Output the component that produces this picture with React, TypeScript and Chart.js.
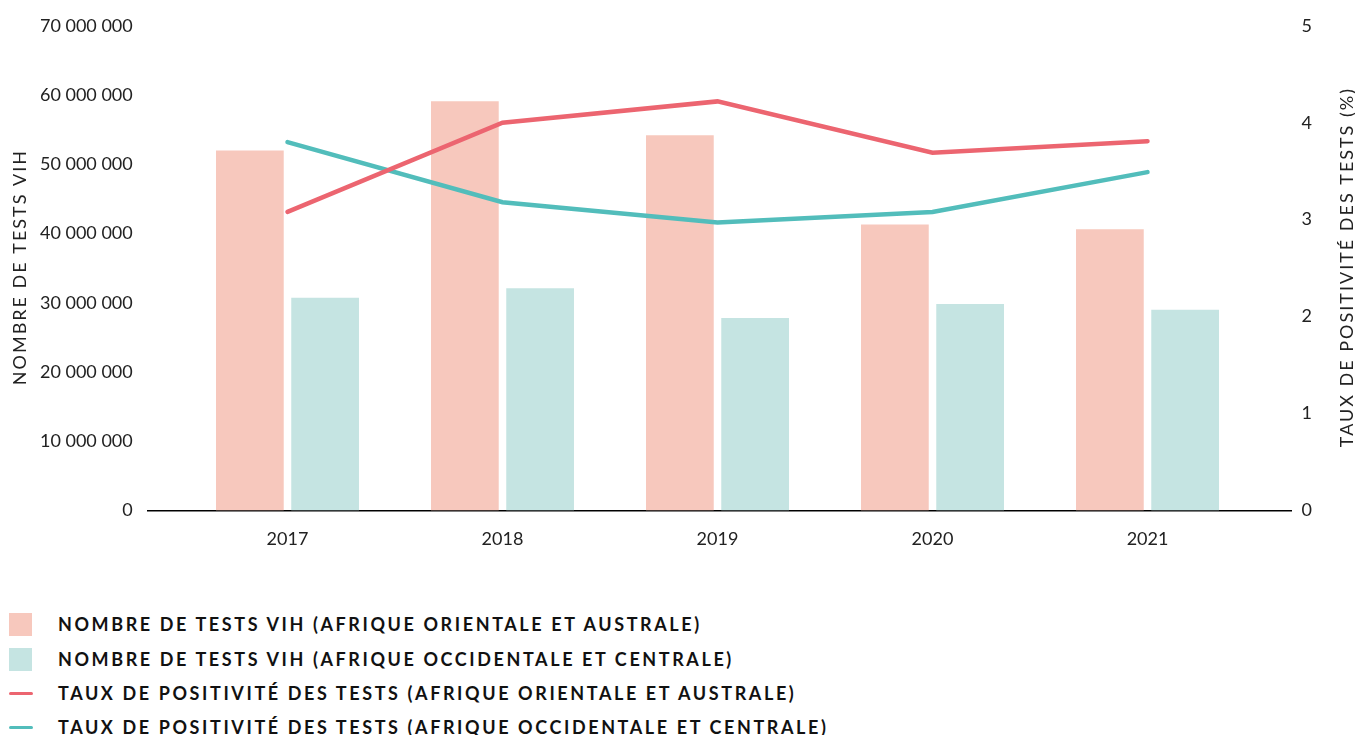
import React, { useEffect, useRef } from 'react';
import { Chart, registerables } from 'chart.js';

Chart.register(...registerables);

const years = ['2017', '2018', '2019', '2020', '2021'];
const testsEastSouth = [52.0e6, 59.1e6, 54.2e6, 41.3e6, 40.6e6];
const testsWestCentral = [30.7e6, 32.1e6, 27.8e6, 29.8e6, 29.0e6];
const positivityEastSouth = [3.08, 4.0, 4.22, 3.69, 3.81];
const positivityWestCentral = [3.8, 3.18, 2.97, 3.08, 3.49];

const leftAxisTitle = 'NOMBRE DE TESTS VIH';
const rightAxisTitle = 'TAUX DE POSITIVITÉ DES TESTS (%)';
const legendLabels = [
  'NOMBRE DE TESTS VIH (AFRIQUE ORIENTALE ET AUSTRALE)',
  'NOMBRE DE TESTS VIH (AFRIQUE OCCIDENTALE ET CENTRALE)',
  'TAUX DE POSITIVITÉ DES TESTS (AFRIQUE ORIENTALE ET AUSTRALE)',
  'TAUX DE POSITIVITÉ DES TESTS (AFRIQUE OCCIDENTALE ET CENTRALE)',
];

const PINK_BAR = '#f7c8bd';
const TEAL_BAR = '#c5e4e2';
const RED_LINE = '#ec6570';
const TEAL_LINE = '#52bdbb';
const FONT = 'Lato, "Open Sans", sans-serif';

const fmt = (v: number) => String(v).replace(/\B(?=(\d{3})+(?!\d))/g, ' ');

const axisTitlesPlugin = {
  id: 'spacedAxisTitles',
  afterDraw(chart: any) {
    const { ctx, chartArea } = chart;
    const cy = (chartArea.top + chartArea.bottom) / 2;
    const draw = (text: string, x: number) => {
      ctx.save();
      ctx.translate(x, cy);
      ctx.rotate(-Math.PI / 2);
      ctx.font = `18px ${FONT}`;
      (ctx as any).letterSpacing = '2px';
      ctx.fillStyle = '#222';
      ctx.textAlign = 'center';
      ctx.textBaseline = 'middle';
      ctx.fillText(text, 1, 0);
      ctx.restore();
    };
    draw(leftAxisTitle, 20);
    draw(rightAxisTitle, 1347);
  },
};

export default function App() {
  const canvasRef = useRef<HTMLCanvasElement | null>(null);

  useEffect(() => {
    const canvas = canvasRef.current;
    if (!canvas) return;
    const pts = (arr: number[]) => arr.map((y, i) => ({ x: i, y }));
    const noGrid = { display: false, drawTicks: false, tickLength: 0 };
    const chart = new Chart(canvas, {
      type: 'bar',
      plugins: [axisTitlesPlugin],
      data: {
        datasets: [
          {
            type: 'line',
            label: legendLabels[2],
            data: pts(positivityEastSouth),
            yAxisID: 'y1',
            borderColor: RED_LINE,
            backgroundColor: RED_LINE,
            borderWidth: 4.5,
            pointRadius: 0,
            borderCapStyle: 'round',
            tension: 0,
            order: 1,
          } as any,
          {
            type: 'line',
            label: legendLabels[3],
            data: pts(positivityWestCentral),
            yAxisID: 'y1',
            borderColor: TEAL_LINE,
            backgroundColor: TEAL_LINE,
            borderWidth: 4.5,
            pointRadius: 0,
            borderCapStyle: 'round',
            tension: 0,
            order: 1,
          } as any,
          {
            type: 'bar',
            label: legendLabels[0],
            data: pts(testsEastSouth),
            yAxisID: 'y',
            backgroundColor: PINK_BAR,
            categoryPercentage: 0.7,
            barPercentage: 0.9,
            order: 2,
          } as any,
          {
            type: 'bar',
            label: legendLabels[1],
            data: pts(testsWestCentral),
            yAxisID: 'y',
            backgroundColor: TEAL_BAR,
            categoryPercentage: 0.7,
            barPercentage: 0.9,
            order: 2,
          } as any,
        ],
      },
      options: {
        animation: false,
        responsive: false,
        maintainAspectRatio: false,
        layout: { padding: { top: 24, left: 0, right: 0, bottom: 14 } },
        plugins: { legend: { display: false }, tooltip: { enabled: false } },
        scales: {
          x: {
            type: 'linear',
            min: -0.65,
            max: 4.67,
            offset: false,
            grid: noGrid,
            border: { display: true, color: '#000', width: 1.5 },
            afterBuildTicks: (scale: any) => {
              scale.ticks = years.map((_, i) => ({ value: i }));
            },
            ticks: {
              autoSkip: false,
              maxRotation: 0,
              padding: 18,
              color: '#222',
              font: { family: FONT, size: 18 },
              callback: (v: any) => years[Number(v)] ?? '',
            },
          },
          y: {
            type: 'linear',
            position: 'left',
            min: 0,
            max: 70000000,
            grid: noGrid,
            border: { display: false },
            ticks: {
              stepSize: 10000000,
              padding: 15,
              color: '#222',
              font: { family: FONT, size: 18 },
              callback: (v: any) => fmt(Number(v)),
            },
            title: {
              display: true,
              text: leftAxisTitle,
              color: 'rgba(0,0,0,0)',
              font: { family: FONT, size: 18, lineHeight: 1 },
              padding: { top: 11, bottom: -4 },
            },
          },
          y1: {
            type: 'linear',
            position: 'right',
            min: 0,
            max: 5,
            grid: noGrid,
            border: { display: false },
            ticks: {
              stepSize: 1,
              padding: 10,
              color: '#222',
              font: { family: FONT, size: 18 },
            },
            title: {
              display: true,
              text: rightAxisTitle,
              color: 'rgba(0,0,0,0)',
              font: { family: FONT, size: 18, lineHeight: 1 },
              padding: { top: 0, bottom: 15 },
            },
          },
        },
      },
    });
    return () => chart.destroy();
  }, []);

  const swatch = (i: number) => {
    if (i < 2) {
      return (
        <span
          style={{
            display: 'inline-block',
            width: 23,
            height: 23,
            background: i === 0 ? PINK_BAR : TEAL_BAR,
          }}
        />
      );
    }
    return (
      <span
        style={{
          display: 'inline-block',
          width: 24,
          height: 3,
          borderRadius: 2,
          background: i === 2 ? RED_LINE : TEAL_LINE,
        }}
      />
    );
  };

  const rowCenters = [624, 659, 693, 727];

  return (
    <div style={{ position: 'absolute', left: 0, top: 0, width: 1355, height: 735, background: '#fff', overflow: 'hidden' }}>
      <canvas ref={canvasRef} width={1355} height={582} style={{ position: 'absolute', left: 0, top: 0, width: 1355, height: 582 }} />
      {legendLabels.map((label, i) => (
        <div
          key={label}
          style={{
            position: 'absolute',
            left: 9,
            top: rowCenters[i] - 15,
            height: 30,
            display: 'flex',
            alignItems: 'center',
            whiteSpace: 'nowrap',
          }}
        >
          <div style={{ width: 49, display: 'flex', alignItems: 'center' }}>{swatch(i)}</div>
          <span
            style={{
              fontFamily: FONT,
              fontWeight: 700,
              fontSize: 18,
              letterSpacing: '2.6px',
              color: '#111',
            }}
          >
            {label}
          </span>
        </div>
      ))}
    </div>
  );
}
